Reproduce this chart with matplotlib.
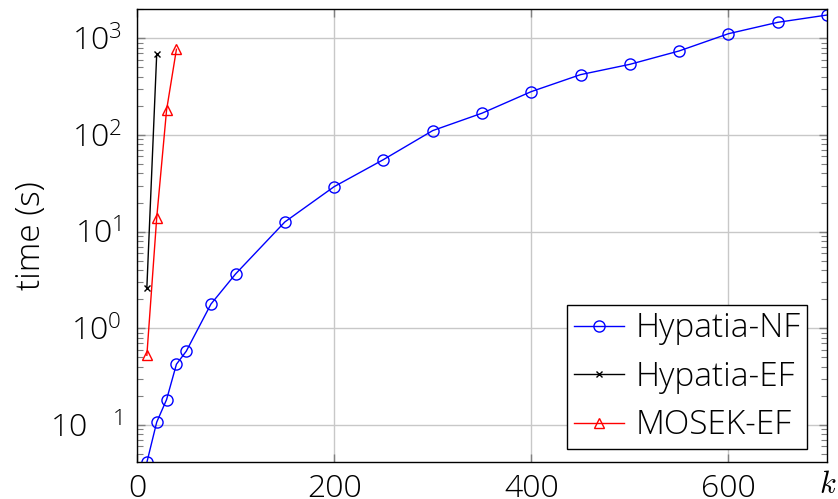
import numpy as np
import matplotlib
matplotlib.use('Agg')
import matplotlib.pyplot as plt
from matplotlib.ticker import FixedLocator, LogLocator, NullFormatter

# Data
k_nf = [10, 20, 30, 40, 50, 75, 100, 150, 200, 250, 300, 350, 400, 450, 500, 550, 600, 650, 700]
t_nf = [0.041, 0.107, 0.183, 0.425, 0.58, 1.78, 3.65, 12.6, 29.2, 55.6, 111, 168, 281, 421, 538, 740, 1116, 1463, 1741]

k_ef = [10, 20]
t_ef = [2.63, 689]

k_mosek = [10, 20, 30, 40]
t_mosek = [0.526, 13.9, 181, 770]

xticks = [0, 200, 400, 600]
yticks = [0.1, 1, 10, 100, 1000]
ytick_labels = [r'$\mathregular{10^{\ \ \ \ 1}}$', r'$\mathregular{10^{0}}$', r'$\mathregular{10^{1}}$',
                r'$\mathregular{10^{2}}$', r'$\mathregular{10^{3}}$']

plt.rcParams['font.family'] = ['Open Sans', 'DejaVu Sans']
plt.rcParams['font.weight'] = 'light'
plt.rcParams['axes.labelweight'] = 'light'
plt.rcParams['mathtext.fontset'] = 'custom'
plt.rcParams['mathtext.rm'] = 'Open Sans:light'
plt.rcParams['mathtext.it'] = 'Open Sans:light:italic'

fig = plt.figure(figsize=(8.38, 4.99), dpi=100)
ax = fig.add_axes([137 / 838, 37 / 499, 690 / 838, 453 / 499])

ax.plot(k_nf, t_nf, color='blue', lw=1.0, marker='o', ms=8, mfc='none', mew=1.0, label='Hypatia-NF')
ax.plot(k_ef, t_ef, color='black', lw=1.0, marker='x', ms=5, mew=1.0, label='Hypatia-EF')
ax.plot(k_mosek, t_mosek, color='red', lw=1.0, marker='^', ms=7, mfc='none', mew=1.0, label='MOSEK-EF')

ax.set_yscale('log')
ax.set_xlim(0, 700)
ax.set_ylim(0.0414, 2010)

ax.xaxis.set_major_locator(FixedLocator(xticks))
ax.set_xticklabels([str(v) for v in xticks])
ax.yaxis.set_major_locator(FixedLocator(yticks))
ax.set_yticklabels(ytick_labels)
ax.yaxis.set_minor_locator(LogLocator(base=10, subs=np.arange(2, 10)))
ax.yaxis.set_minor_formatter(NullFormatter())

ax.grid(True, which='major', color='#c8c8c8', lw=1.0)
ax.set_axisbelow(True)
ax.tick_params(which='both', direction='in', top=True, right=True, color='#808080', labelcolor='black')
ax.tick_params(which='major', length=6, width=1.0, labelsize=23)
ax.tick_params(axis='x', which='major', pad=8)
ax.tick_params(axis='y', which='major', pad=11)
ax.tick_params(which='minor', length=4, width=0.8)
for s in ax.spines.values():
    s.set_linewidth(1.0)

ax.set_ylabel('time (s)', fontsize=24, labelpad=1.5, color='black')
fig.text(828 / 838, 1 - 485 / 499, r'$k$', fontsize=22, ha='center', va='center', math_fontfamily='cm')

leg = ax.legend(loc='lower right', bbox_to_anchor=(807 / 838, 50 / 499), bbox_transform=fig.transFigure,
                fontsize=24, frameon=True, fancybox=False, edgecolor='black', framealpha=1,
                handlelength=1.5, borderpad=0.2, labelspacing=0.45, handletextpad=0.35, borderaxespad=0)
leg.get_frame().set_linewidth(1.0)
for t in leg.get_texts():
    t.set_color('black')

fig.savefig('out.png', dpi=100)
